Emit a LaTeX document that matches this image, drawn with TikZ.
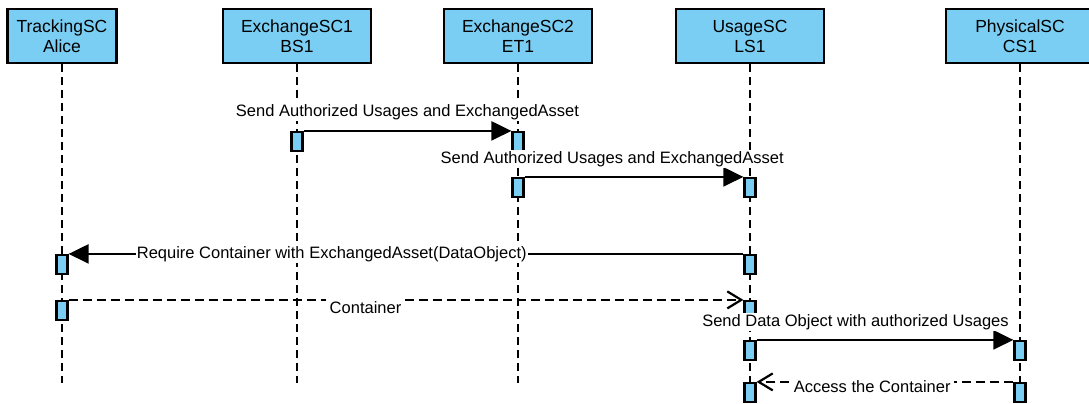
\documentclass[tikz,border=0pt]{standalone}
\usepackage{fontspec}
\setmainfont{Liberation Sans}
\usetikzlibrary{positioning,arrows.meta}
\definecolor{actblue}{RGB}{122,206,243}

\begin{document}
\begin{tikzpicture}[
    x=1pt, y=-1pt,
    head/.style     = {draw, line width=2.8pt, fill=actblue,
                       minimum width=148pt, minimum height=54pt,
                       font=\fontsize{17.5}{20}\selectfont, align=center,
                       inner sep=0pt},
    act/.style      = {draw, line width=2.2pt, fill=actblue,
                       minimum width=11pt, minimum height=19pt, inner sep=0pt},
    life/.style     = {line width=2.2pt, dash pattern=on 8pt off 5pt},
    call/.style     = {line width=2.2pt, -{Triangle[length=20pt,width=19pt]}},
    reply/.style    = {line width=2.2pt, dash pattern=on 9pt off 5pt,
                       -{Straight Barb[length=14pt,width=17pt]}},
    lbl/.style      = {fill=white, inner sep=1pt,
                       font=\fontsize{16.5}{18}\selectfont}
]
\useasboundingbox (0,0) rectangle (1089,404);

% lifeline heads
\node[head, minimum width=109pt] (alice) at (62,36)   {TrackingSC\\Alice};
\node[head] (bs1)   at (297,36)  {ExchangeSC1\\BS1};
\node[head] (et1)   at (518,36)  {ExchangeSC2\\ET1};
\node[head] (ls1)   at (750,36)  {UsageSC\\LS1};
\node[head] (cs1)   at (1020,36) {PhysicalSC\\CS1};

\coordinate (bot) at (0,383);
\foreach \h in {alice,bs1,et1,ls1,cs1}
  \draw[life] (\h.south) -- (\h.south |- bot);

% activations
\node[act] (bsA) at (297,141.5)  {};
\node[act] (etA) at (518,141.5)  {};
\node[act] (etB) at (518,187.5)  {};
\node[act] (lsA) at (750,187.5)  {};
\node[act] (alA) at (62,264.5)   {};
\node[act] (lsB) at (750,264.5)  {};
\node[act] (alB) at (62,310.5)   {};
\node[act] (lsC) at (750,310.5)  {};
\node[act] (lsD) at (750,350.5)  {};
\node[act] (csA) at (1020,350.5) {};
\node[act] (lsE) at (750,392.5)  {};
\node[act] (csB) at (1020,392.5) {};

% messages
\draw[call]  (bsA.north east) -- node[lbl, pos=0.5, above=9pt]
    {Send Authorized Usages and ExchangedAsset} (etA.north west);
\draw[call]  (etB.north east) -- node[lbl, pos=0.4, above=8pt]
    {Send Authorized Usages and ExchangedAsset} (lsA.north west);
\draw[call]  (lsB.north west) -- node[lbl, pos=0.61]
    {Require Container with ExchangedAsset(DataObject)} (alA.north east);
\draw[reply] (alB.north east) -- node[lbl, pos=0.44, yshift=-8pt,
    inner ysep=5pt, inner xsep=4pt] {Container} (lsC.north west);
\draw[call]  (lsD.north east) -- node[lbl, pos=0.385, above=8pt]
    {Send Data Object with authorized Usages} (csA.north west);
\draw[reply] (csB.north west) -- node[lbl, pos=0.55, yshift=-5pt,
    inner xsep=3pt] {Access the Container} (lsE.north east);

\end{tikzpicture}
\end{document}
